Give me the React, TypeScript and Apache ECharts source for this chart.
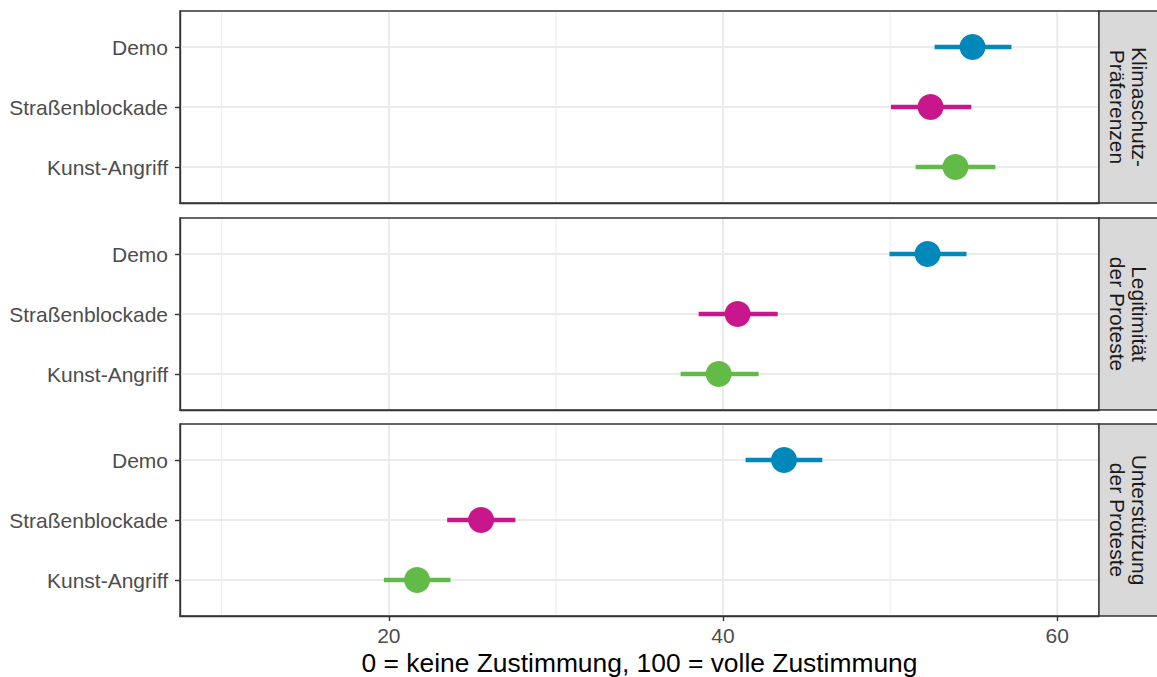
import React, { useEffect, useRef } from "react";
import * as echarts from "echarts";

// y positions: 1 = Kunst-Angriff, 2 = Straßenblockade, 3 = Demo
const categories = ["Kunst-Angriff", "Straßenblockade", "Demo"];
const categoryColors = ["#63BB47", "#C8178C", "#0088BB"];
const panelLabels = ["Klimaschutz-\nPräferenzen", "Legitimität\nder Proteste", "Unterstützung\nder Proteste"];

// Panel 1: Klimaschutz-Präferenzen
const klimaEst = [53.91, 52.42, 54.93];
const klimaLo = [51.52, 50.05, 52.66];
const klimaHi = [56.3, 54.86, 57.26];
// Panel 2: Legitimität der Proteste
const legitEst = [39.74, 40.87, 52.24];
const legitLo = [37.46, 38.54, 49.96];
const legitHi = [42.13, 43.27, 54.57];
// Panel 3: Unterstützung der Proteste
const unterEst = [21.69, 25.52, 43.65];
const unterLo = [19.7, 23.49, 41.35];
const unterHi = [23.69, 27.57, 45.94];

const xMajor = [20, 40, 60];
const xMinor = [10, 30, 50];
const yTicks = [1, 2, 3];
const xTitle = "0 = keine Zustimmung, 100 = volle Zustimmung";

const FONT = "'Liberation Sans', Arial, sans-serif";

export default function App() {
  const ref = useRef<HTMLDivElement>(null);
  useEffect(() => {
    if (!ref.current) return;
    const chart = echarts.init(ref.current, null, { renderer: "svg" });
    const W = 1157;
    const panelTops = [11, 218, 424];
    const panelH = 192;
    const gridLeft = 180;
    const gridRight = 58;
    const panels = [
      { est: klimaEst, lo: klimaLo, hi: klimaHi },
      { est: legitEst, lo: legitLo, hi: legitHi },
      { est: unterEst, lo: unterLo, hi: unterHi },
    ];

    const grids: any[] = [];
    const xAxes: any[] = [];
    const yAxes: any[] = [];
    const series: any[] = [];
    const graphics: any[] = [];

    panels.forEach((p, i) => {
      const last = i === panels.length - 1;
      grids.push({
        left: gridLeft,
        right: gridRight,
        top: panelTops[i],
        height: panelH,
        show: true,
        borderColor: "#333333",
        borderWidth: 1.4,
        backgroundColor: "#FFFFFF",
      });
      xAxes.push({
        type: "value",
        gridIndex: i,
        min: 7.5,
        max: 62.5,
        splitLine: { show: false },
        axisLine: { show: true, lineStyle: { color: "#333333", width: 1.4 } },
        axisTick: last
          ? { show: true, customValues: xMajor, length: 5, lineStyle: { color: "#333333", width: 1.4 } }
          : { show: false },
        axisLabel: last
          ? { show: true, customValues: xMajor, color: "#4D4D4D", fontSize: 21, fontFamily: FONT, margin: 9 }
          : { show: false },
        name: last ? xTitle : "",
        nameLocation: "middle",
        nameGap: 34,
        nameTextStyle: { color: "#000000", fontSize: 26.4, fontFamily: FONT, verticalAlign: "top" },
      });
      yAxes.push({
        type: "value",
        gridIndex: i,
        min: 0.4,
        max: 3.6,
        splitLine: { show: false },
        axisLine: { show: true, lineStyle: { color: "#333333", width: 1.4 } },
        axisTick: { show: true, customValues: yTicks, length: 5, lineStyle: { color: "#333333", width: 1.4 } },
        axisLabel: {
          show: true,
          customValues: yTicks,
          formatter: (v: number) => categories[Math.round(v) - 1] || "",
          color: "#4D4D4D",
          fontSize: 21,
          fontFamily: FONT,
          margin: 12,
        },
      });

      // gridlines
      const vLine = (width: number) => (params: any, api: any) => {
        const cs = params.coordSys;
        const x = api.coord([api.value(0), 2])[0];
        return {
          type: "line",
          shape: { x1: x, y1: cs.y + 1, x2: x, y2: cs.y + cs.height - 1 },
          style: { stroke: "#EBEBEB", lineWidth: width },
        };
      };
      series.push({
        type: "custom",
        xAxisIndex: i,
        yAxisIndex: i,
        z: 1,
        silent: true,
        encode: { x: 0 },
        data: xMinor.map((v) => [v]),
        renderItem: vLine(1),
      });
      series.push({
        type: "custom",
        xAxisIndex: i,
        yAxisIndex: i,
        z: 1,
        silent: true,
        encode: { x: 0 },
        data: xMajor.map((v) => [v]),
        renderItem: vLine(2),
      });
      series.push({
        type: "custom",
        xAxisIndex: i,
        yAxisIndex: i,
        z: 1,
        silent: true,
        encode: { y: 0 },
        data: yTicks.map((v) => [v]),
        renderItem: (params: any, api: any) => {
          const cs = params.coordSys;
          const y = api.coord([30, api.value(0)])[1];
          return {
            type: "line",
            shape: { x1: cs.x + 1, y1: y, x2: cs.x + cs.width - 1, y2: y },
            style: { stroke: "#EBEBEB", lineWidth: 2 },
          };
        },
      });

      // error bars
      series.push({
        type: "custom",
        xAxisIndex: i,
        yAxisIndex: i,
        z: 2,
        encode: { x: [0, 1], y: 2 },
        data: p.lo.map((lo, k) => [lo, p.hi[k], k + 1]),
        renderItem: (params: any, api: any) => {
          const y = api.value(2);
          const a = api.coord([api.value(0), y]);
          const b = api.coord([api.value(1), y]);
          return {
            type: "line",
            shape: { x1: a[0], y1: a[1], x2: b[0], y2: b[1] },
            style: { stroke: categoryColors[params.dataIndex], lineWidth: 4.6 },
          };
        },
      });
      // points
      series.push({
        type: "scatter",
        xAxisIndex: i,
        yAxisIndex: i,
        z: 3,
        symbol: "circle",
        symbolSize: 26,
        data: p.est.map((e, k) => ({ value: [e, k + 1], itemStyle: { color: categoryColors[k], opacity: 1 } })),
      });

      // strip
      graphics.push({
        type: "rect",
        shape: { x: W - gridRight, y: panelTops[i], width: gridRight + 2, height: panelH },
        style: { fill: "#D9D9D9", stroke: "#333333", lineWidth: 1.4 },
        z: 10,
      });
      graphics.push({
        type: "text",
        x: W - gridRight / 2,
        y: panelTops[i] + panelH / 2,
        rotation: -Math.PI / 2,
        style: {
          text: panelLabels[i],
          fill: "#1A1A1A",
          fontSize: 21,
          fontFamily: FONT,
          align: "center",
          verticalAlign: "middle",
          lineHeight: 22,
        },
        z: 11,
      });
    });

    chart.setOption({
      animation: false,
      backgroundColor: "#FFFFFF",
      grid: grids,
      xAxis: xAxes,
      yAxis: yAxes,
      series,
      graphic: graphics,
    });
    return () => chart.dispose();
  }, []);
  return (
    <div
      ref={ref}
      style={{ position: "fixed", left: 0, top: 0, width: 1157, height: 677, background: "#fff" }}
    />
  );
}
